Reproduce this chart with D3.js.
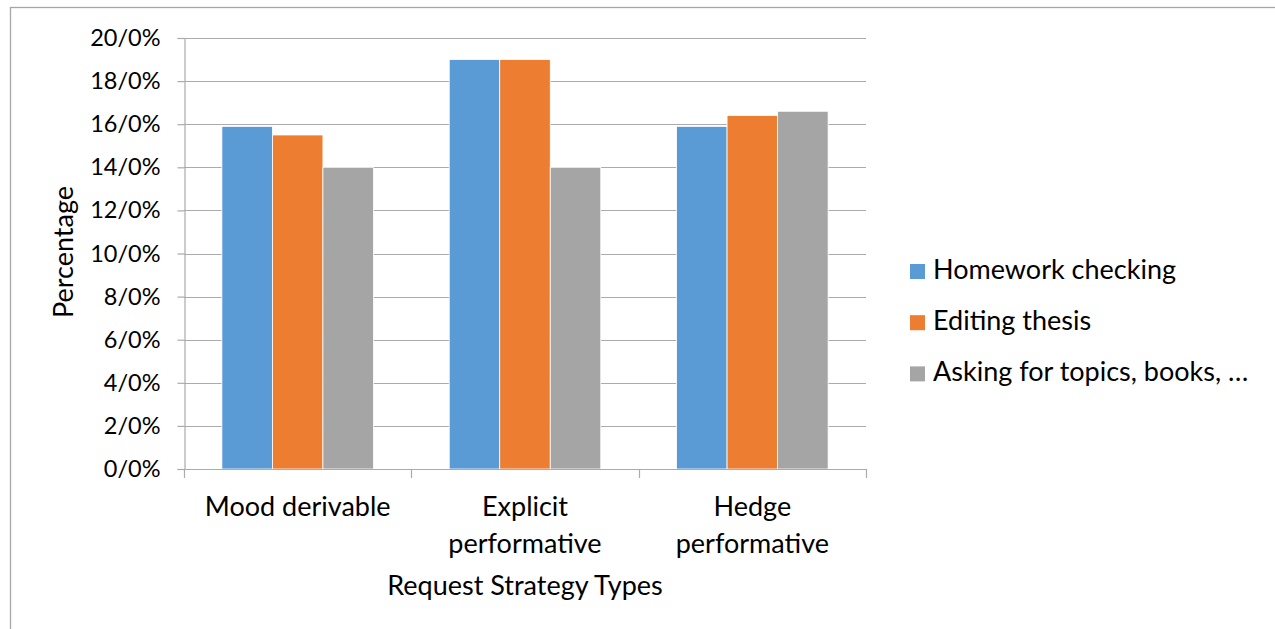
<!DOCTYPE html>
<html>
<head>
<meta charset="utf-8">
<script src="https://cdn.jsdelivr.net/npm/d3@7"></script>
<style>
  html, body { margin: 0; padding: 0; background: #fff; }
  svg { display: block; }
  text { font-family: Lato, "Open Sans", sans-serif; fill: #000; }
</style>
</head>
<body>
<svg id="chart" width="1275" height="629"></svg>
<script>
// Request strategy types (x categories), split over two lines where wrapped
const categories = ["Mood derivable", "Explicit performative", "Hedge performative"];
const categoryLines = [["Mood derivable"], ["Explicit", "performative"], ["Hedge", "performative"]];

// Series (percentages)
const seriesNames = ["Homework checking", "Editing thesis", "Asking for topics, books, …"];
const homework = [15.9, 19.0, 15.9];
const editing = [15.5, 19.0, 16.4];
const asking = [14.0, 14.0, 16.6];
const seriesValues = [homework, editing, asking];
const seriesColors = ["#5B9BD5", "#ED7D31", "#A5A5A5"];

// Y tick values and their labels
const yTicks = [0, 2, 4, 6, 8, 10, 12, 14, 16, 18, 20];
const yTickLabels = ["0/0%", "2/0%", "4/0%", "6/0%", "8/0%", "10/0%", "12/0%", "14/0%", "16/0%", "18/0%", "20/0%"];

const svg = d3.select("#chart");
const gridColor = "#ABABAB";
const labelSize = 27;

// Outer chart frame
svg.append("rect")
  .attr("x", 10.5).attr("y", 7.5)
  .attr("width", 1300).attr("height", 700)
  .attr("fill", "none").attr("stroke", "#A6A6A6").attr("stroke-width", 1.3);

const plot = { left: 184, right: 866, top: 38, bottom: 469 };

const y = d3.scaleLinear().domain([0, 20]).range([plot.bottom, plot.top]);
const x = d3.scaleBand().domain(categories).range([plot.left, plot.right]).padding(0);
const xs = d3.scaleBand().domain(seriesNames).range([0, x.bandwidth()])
  .paddingInner(0).paddingOuter(0.75);

// Horizontal gridlines
svg.append("g")
  .selectAll("line")
  .data(yTicks.filter(t => t > 0))
  .join("line")
  .attr("x1", plot.left).attr("x2", plot.right)
  .attr("y1", d => Math.round(y(d)) + 0.5).attr("y2", d => Math.round(y(d)) + 0.5)
  .attr("stroke", gridColor).attr("stroke-width", 1.2);

// Bars
const rows = categories.map((c, i) => ({ category: c, values: seriesNames.map((s, j) => ({ series: s, value: seriesValues[j][i], color: seriesColors[j] })) }));
svg.append("g")
  .selectAll("g")
  .data(rows)
  .join("g")
  .attr("transform", d => `translate(${x(d.category)},0)`)
  .selectAll("rect")
  .data(d => d.values)
  .join("rect")
  .attr("x", d => xs(d.series))
  .attr("width", xs.bandwidth())
  .attr("y", d => y(d.value))
  .attr("height", d => y(0) - y(d.value))
  .attr("fill", d => d.color)
  .attr("stroke", "#fff").attr("stroke-width", 0.8);

// Y axis
const yAxis = d3.axisLeft(y)
  .tickValues(yTicks)
  .tickFormat((d, i) => yTickLabels[i])
  .tickSize(7)
  .tickPadding(17);
const gy = svg.append("g")
  .attr("transform", `translate(${plot.left + 0.5},0)`)
  .call(yAxis);
gy.select(".domain").attr("stroke", gridColor).attr("stroke-width", 1.2);
gy.selectAll(".tick line").attr("stroke", gridColor).attr("stroke-width", 1.2);
gy.selectAll(".tick text").attr("font-size", 23.5).attr("font-family", "Lato").attr("fill", "#000");

// X axis: baseline and ticks at band boundaries
const gx = svg.append("g");
gx.append("line")
  .attr("x1", plot.left).attr("x2", plot.right)
  .attr("y1", plot.bottom + 0.5).attr("y2", plot.bottom + 0.5)
  .attr("stroke", gridColor).attr("stroke-width", 1.2);
const edges = categories.map(c => x(c)).concat([x(categories[categories.length - 1]) + x.bandwidth()]);
gx.selectAll("line.tk")
  .data(edges)
  .join("line")
  .attr("class", "tk")
  .attr("x1", d => Math.round(d) + 0.5).attr("x2", d => Math.round(d) + 0.5)
  .attr("y1", plot.bottom).attr("y2", plot.bottom + 9)
  .attr("stroke", gridColor).attr("stroke-width", 1.2);

// Category labels
gx.selectAll("text.cat")
  .data(categories)
  .join("text")
  .attr("class", "cat")
  .attr("text-anchor", "middle")
  .attr("font-size", labelSize)
  .attr("x", d => x(d) + x.bandwidth() / 2)
  .attr("y", 516)
  .each(function (d, i) {
    d3.select(this).selectAll("tspan")
      .data(categoryLines[i])
      .join("tspan")
      .attr("x", x(d) + x.bandwidth() / 2)
      .attr("dy", (t, k) => k === 0 ? 0 : 37)
      .text(t => t);
  });

// Axis titles
svg.append("text")
  .attr("text-anchor", "middle")
  .attr("font-size", labelSize)
  .attr("x", (plot.left + plot.right) / 2)
  .attr("y", 595)
  .text("Request Strategy Types");

svg.append("text")
  .attr("text-anchor", "middle")
  .attr("font-size", labelSize)
  .attr("transform", `translate(73,252) rotate(-90)`)
  .text("Percentage");

// Legend
const legend = svg.append("g").attr("transform", "translate(910,0)");
const legendRows = legend.selectAll("g")
  .data(seriesNames)
  .join("g")
  .attr("transform", (d, i) => `translate(0,${279 + i * 51.2})`);
legendRows.append("rect")
  .attr("x", 0).attr("y", -15)
  .attr("width", 15).attr("height", 15)
  .attr("fill", (d, i) => seriesColors[i]);
legendRows.append("text")
  .attr("x", 23).attr("y", 0)
  .attr("font-size", labelSize)
  .text(d => d);
</script>
</body>
</html>
